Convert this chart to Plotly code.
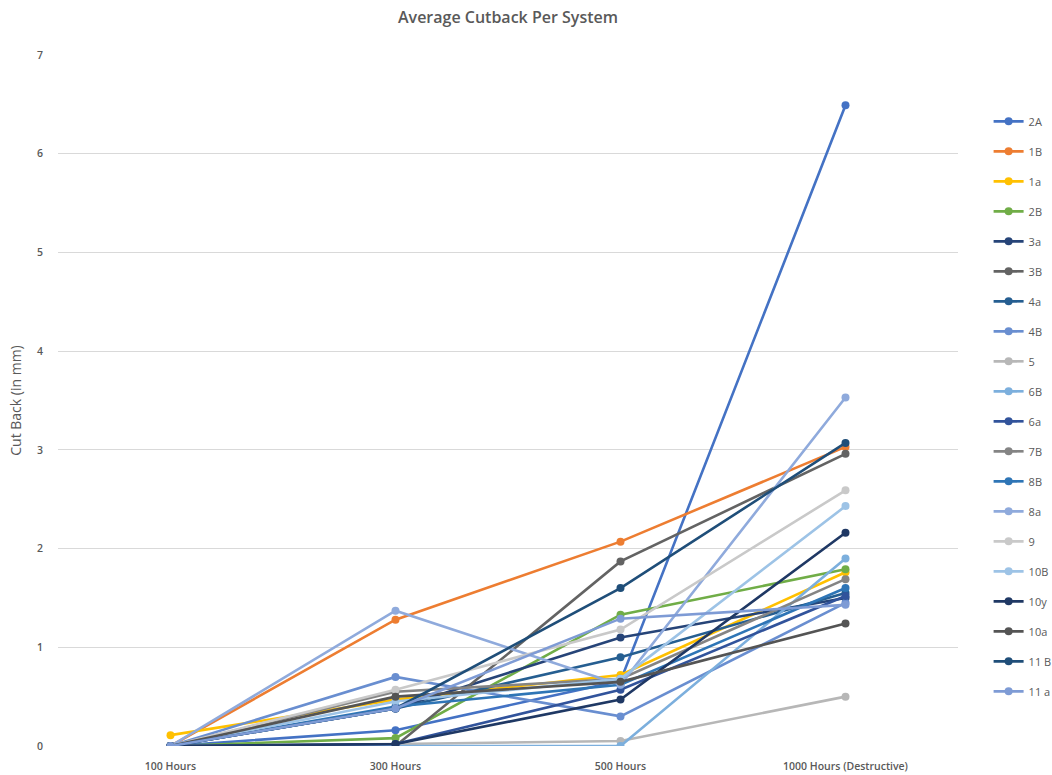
import plotly.graph_objects as go

# Inspection intervals
categories = ["100 Hours", "300 Hours", "500 Hours", "1000 Hours (Destructive)"]

# Average cutback (mm) per system at each interval
cut_2A = [0.00, 0.16, 0.66, 6.49]
cut_1B = [0.00, 1.28, 2.07, 3.03]
cut_1a = [0.11, 0.47, 0.72, 1.76]
cut_2B = [0.00, 0.08, 1.33, 1.79]
cut_3a = [0.00, 0.38, 1.10, 1.50]
cut_3B = [0.00, 0.00, 1.87, 2.96]
cut_4a = [0.00, 0.38, 0.90, 1.55]
cut_4B = [0.00, 0.70, 0.30, 1.45]
cut_5 = [0.00, 0.02, 0.05, 0.50]
cut_6B = [0.00, 0.00, 0.00, 1.90]
cut_6a = [0.00, 0.02, 0.57, 1.52]
cut_7B = [0.00, 0.55, 0.68, 1.69]
cut_8B = [0.00, 0.40, 0.62, 1.60]
cut_8a = [0.00, 1.37, 0.62, 3.53]
cut_9 = [0.00, 0.57, 1.18, 2.59]
cut_10B = [0.00, 0.45, 0.68, 2.43]
cut_10y = [0.00, 0.02, 0.47, 2.16]
cut_10a = [0.00, 0.50, 0.65, 1.24]
cut_11B = [0.00, 0.38, 1.60, 3.07]
cut_11a = [0.00, 0.38, 1.29, 1.43]

systems = ["2A", "1B", "1a", "2B", "3a", "3B", "4a", "4B", "5", "6B",
           "6a", "7B", "8B", "8a", "9", "10B", "10y", "10a", "11 B", "11 a"]
values = [cut_2A, cut_1B, cut_1a, cut_2B, cut_3a, cut_3B, cut_4a, cut_4B, cut_5, cut_6B,
          cut_6a, cut_7B, cut_8B, cut_8a, cut_9, cut_10B, cut_10y, cut_10a, cut_11B, cut_11a]
colors = ["#4472C4", "#ED7D31", "#FFC000", "#70AD47", "#264478", "#636363", "#255E91",
          "#698ED0", "#B7B7B7", "#7CAFDD", "#31539B", "#848484", "#2E75B6", "#8FAADC",
          "#C9C9C9", "#9DC3E6", "#1F3864", "#545454", "#1F4E79", "#7E9BD5"]

FONT = "Open Sans"
GREY = "#595959"

fig = go.Figure()
for name, ys, col in zip(systems, values, colors):
    fig.add_trace(go.Scatter(
        x=categories, y=ys, name=name, legendgroup=name,
        mode="lines+markers",
        line=dict(color=col, width=2.6),
        marker=dict(color=col, size=8, symbol="circle"),
    ))

fig.update_layout(
    width=1052, height=775,
    paper_bgcolor="white", plot_bgcolor="white",
    margin=dict(l=58, r=94, t=55, b=29, autoexpand=False),
    title=dict(text="Average Cutback Per System", x=508 / 1052, xanchor="center",
               y=1 - 17 / 775, yanchor="middle", yref="container",
               font=dict(family=FONT, size=16, color=GREY, weight=600)),
    xaxis=dict(type="category", range=[-0.5, 3.5], showgrid=False, showline=False,
               zeroline=False, ticks="", ticklabelstandoff=12, automargin=False,
               tickfont=dict(family=FONT, size=10.5, color=GREY, weight=600)),
    yaxis=dict(range=[0, 7], dtick=1, showgrid=True, gridcolor="#D9D9D9", gridwidth=1,
               zeroline=False, showline=False, ticks="", ticklabelstandoff=14,
               automargin=False,
               tickfont=dict(family=FONT, size=10.5, color=GREY, weight=600),
               title=dict(text="Cut Back (in mm)", standoff=12,
                          font=dict(family=FONT, size=14, color=GREY))),
    legend=dict(x=1.034, xanchor="left", y=0.925, yanchor="top",
                tracegroupgap=11, itemwidth=30,
                font=dict(family=FONT, size=11, color=GREY)),
)

fig.write_html("out.html")
